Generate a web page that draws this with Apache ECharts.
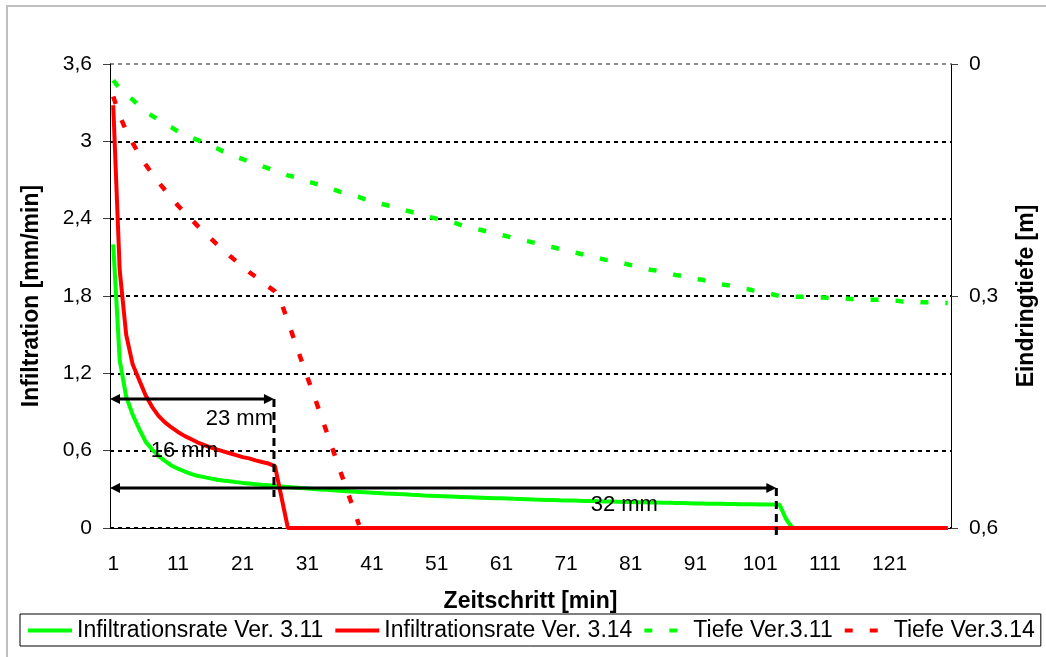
<!DOCTYPE html>
<html>
<head>
<meta charset="utf-8">
<script src="https://cdn.jsdelivr.net/npm/echarts@6.0.0/dist/echarts.min.js"></script>
<style>
  html, body { margin: 0; padding: 0; background: #fff; }
  #chart { width: 1046px; height: 657px; }
</style>
</head>
<body>
<div id="chart"></div>
<script>
// Zeitschritt 1..130
const steps = [];
for (let i = 1; i <= 130; i++) steps.push(String(i));

const leftTicks = ['0', '0,6', '1,2', '1,8', '2,4', '3', '3,6'];
const rightTicks = ['0', '0,3', '0,6'];

// Infiltrationsrate [mm/min]
const rate311 = [
  2.2, 1.3, 1.02, 0.88, 0.77, 0.67, 0.61, 0.56, 0.52, 0.485,
  0.46, 0.44, 0.42, 0.405, 0.395, 0.385, 0.375, 0.368, 0.362, 0.356,
  0.35, 0.345, 0.34, 0.335, 0.331, 0.327, 0.323, 0.319, 0.315, 0.31,
  0.307, 0.303, 0.299, 0.296, 0.292, 0.289, 0.286, 0.283, 0.28, 0.277,
  0.274, 0.271, 0.268, 0.266, 0.263, 0.261, 0.258, 0.256, 0.253, 0.251,
  0.249, 0.247, 0.245, 0.243, 0.241, 0.239, 0.237, 0.235, 0.233, 0.231,
  0.23, 0.228, 0.226, 0.225, 0.223, 0.221, 0.22, 0.218, 0.217, 0.215,
  0.214, 0.213, 0.211, 0.21, 0.209, 0.207, 0.206, 0.205, 0.204, 0.202,
  0.201, 0.2, 0.199, 0.198, 0.197, 0.196, 0.195, 0.194, 0.193, 0.192,
  0.191, 0.19, 0.189, 0.189, 0.188, 0.187, 0.186, 0.185, 0.185, 0.184,
  0.183, 0.183, 0.182, 0.181, 0.07, 0, 0, 0, 0, 0,
  0, 0, 0, 0, 0, 0, 0, 0, 0, 0,
  0, 0, 0, 0, 0, 0, 0, 0, 0, 0
];
const rate314 = [
  3.28, 2.0, 1.5, 1.27, 1.15, 1.03, 0.94, 0.87, 0.82, 0.78,
  0.745, 0.715, 0.69, 0.665, 0.645, 0.625, 0.61, 0.595, 0.58, 0.565,
  0.55, 0.54, 0.525, 0.512, 0.5, 0.48, 0.24, 0, 0, 0,
  0, 0, 0, 0, 0, 0, 0, 0, 0, 0,
  0, 0, 0, 0, 0, 0, 0, 0, 0, 0,
  0, 0, 0, 0, 0, 0, 0, 0, 0, 0,
  0, 0, 0, 0, 0, 0, 0, 0, 0, 0,
  0, 0, 0, 0, 0, 0, 0, 0, 0, 0,
  0, 0, 0, 0, 0, 0, 0, 0, 0, 0,
  0, 0, 0, 0, 0, 0, 0, 0, 0, 0,
  0, 0, 0, 0, 0, 0, 0, 0, 0, 0,
  0, 0, 0, 0, 0, 0, 0, 0, 0, 0,
  0, 0, 0, 0, 0, 0, 0, 0, 0, 0
];

// Eindringtiefe [m]
const depth311 = [
  0.021, 0.032, 0.04, 0.046, 0.054, 0.061, 0.067, 0.072, 0.078, 0.082,
  0.087, 0.091, 0.095, 0.098, 0.102, 0.106, 0.109, 0.113, 0.116, 0.12,
  0.123, 0.126, 0.129, 0.132, 0.135, 0.138, 0.141, 0.144, 0.146, 0.149,
  0.152, 0.154, 0.157, 0.16, 0.162, 0.165, 0.167, 0.17, 0.172, 0.175,
  0.177, 0.18, 0.182, 0.184, 0.187, 0.189, 0.191, 0.194, 0.196, 0.198,
  0.2, 0.202, 0.204, 0.206, 0.209, 0.211, 0.213, 0.215, 0.217, 0.219,
  0.221, 0.223, 0.225, 0.227, 0.229, 0.231, 0.233, 0.235, 0.237, 0.239,
  0.241, 0.243, 0.245, 0.247, 0.249, 0.251, 0.253, 0.254, 0.256, 0.258,
  0.26, 0.262, 0.264, 0.266, 0.267, 0.269, 0.271, 0.273, 0.274, 0.276,
  0.278, 0.279, 0.281, 0.283, 0.285, 0.286, 0.288, 0.29, 0.291, 0.293,
  0.295, 0.296, 0.298, 0.3, 0.3, 0.301, 0.301, 0.301, 0.302, 0.302,
  0.302, 0.303, 0.303, 0.303, 0.304, 0.304, 0.304, 0.305, 0.305, 0.305,
  0.306, 0.306, 0.307, 0.307, 0.307, 0.308, 0.308, 0.308, 0.309, 0.309
];
const depth314 = [
  0.042, 0.067, 0.086, 0.102, 0.117, 0.13, 0.142, 0.153, 0.163, 0.173,
  0.183, 0.192, 0.2, 0.209, 0.217, 0.225, 0.233, 0.24, 0.248, 0.255,
  0.262, 0.269, 0.275, 0.282, 0.288, 0.294, 0.309, 0.333, 0.357, 0.381,
  0.405, 0.428, 0.452, 0.476, 0.5, 0.524, 0.548, 0.572, 0.596
];

const seriesNames = ['Infiltrationsrate Ver. 3.11', 'Infiltrationsrate Ver. 3.14', 'Tiefe Ver.3.11', 'Tiefe Ver.3.14'];

const FONT = '"Liberation Sans", Arial, sans-serif';
const GREEN = '#00ff00', RED = '#ff0000';

let chart = echarts.init(document.getElementById('chart'));

let option = {
  animation: false,
  backgroundColor: '#fff',
  textStyle: { fontFamily: FONT },
  grid: { left: 110, right: 88, top: 64, bottom: 129 },
  legend: {
    data: seriesNames,
    left: 20,
    top: 614,
    padding: [5, 6, 4, 6],
    itemWidth: 44,
    itemHeight: 14,
    itemGap: 10,
    borderColor: '#000',
    borderWidth: 1,
    itemStyle: { opacity: 0 },
    lineStyle: { width: 4 },
    textStyle: { fontSize: 23, color: '#000', fontFamily: FONT }
  },
  xAxis: {
    type: 'category',
    data: steps,
    boundaryGap: true,
    name: 'Zeitschritt [min]',
    nameLocation: 'middle',
    nameGap: 62,
    nameTextStyle: { fontSize: 23, fontWeight: 'bold', color: '#000', fontFamily: FONT },
    axisLine: { lineStyle: { color: '#000', width: 1 } },
    axisTick: { interval: 4, length: 7, lineStyle: { color: '#404040' } },
    axisLabel: { interval: 9, margin: 26, fontSize: 21, color: '#000', fontFamily: FONT },
    splitLine: { show: false }
  },
  yAxis: [
    {
      type: 'value',
      min: 0,
      max: 3.6,
      interval: 0.6,
      name: 'Infiltration [mm/min]',
      nameLocation: 'middle',
      nameRotate: 90,
      nameGap: 67,
      nameTextStyle: { fontSize: 23, fontWeight: 'bold', color: '#000', fontFamily: FONT },
      axisLine: { show: true, lineStyle: { color: '#000', width: 1 } },
      axisTick: { show: true, length: 7, lineStyle: { color: '#404040' } },
      axisLabel: {
        margin: 18, fontSize: 21, color: '#000', fontFamily: FONT,
        formatter: (v, i) => leftTicks[i]
      },
      splitLine: {
        show: true,
        lineStyle: {
          color: ['#000', '#000', '#000', '#000', '#000', '#000', '#8c8c8c'],
          width: 2,
          type: [4, 4]
        }
      }
    },
    {
      type: 'value',
      min: 0,
      max: 0.6,
      interval: 0.3,
      inverse: true,
      name: 'Eindringtiefe [m]',
      nameLocation: 'middle',
      nameRotate: 90,
      nameGap: 64,
      nameTextStyle: { fontSize: 23, fontWeight: 'bold', color: '#000', fontFamily: FONT },
      axisLine: { show: true, lineStyle: { color: '#000', width: 1 } },
      axisTick: { show: true, length: 7, lineStyle: { color: '#404040' } },
      axisLabel: {
        margin: 18, fontSize: 21, color: '#000', fontFamily: FONT,
        formatter: (v, i) => rightTicks[i]
      },
      splitLine: { show: false }
    }
  ],
  series: [
    {
      name: seriesNames[0], type: 'line', data: rate311, yAxisIndex: 0,
      symbol: 'none', color: GREEN,
      lineStyle: { color: GREEN, width: 4 }
    },
    {
      name: seriesNames[1], type: 'line', data: rate314, yAxisIndex: 0,
      symbol: 'none', color: RED,
      lineStyle: { color: RED, width: 4 }
    },
    {
      name: seriesNames[2], type: 'line', data: depth311, yAxisIndex: 1,
      symbol: 'none', color: GREEN,
      lineStyle: { color: GREEN, width: 4.5, type: [8, 17] }
    },
    {
      name: seriesNames[3], type: 'line', data: depth314, yAxisIndex: 1,
      symbol: 'none', color: RED,
      lineStyle: { color: RED, width: 4.5, type: [8, 17] }
    }
  ]
};
chart.setOption(option);

// annotations, placed through the axes
function px(cat, val) {
  return chart.convertToPixel({ xAxisIndex: 0, yAxisIndex: 0 }, [cat, val]);
}
const half = (px('2', 0)[0] - px('1', 0)[0]) / 2;
const x0 = px('1', 0)[0] - half;

function arrow(xa, xb, y) {
  const s = { fill: '#000' };
  return [
    { type: 'line', shape: { x1: xa + 6, y1: y, x2: xb - 6, y2: y }, style: { stroke: '#000', lineWidth: 3 }, z: 100 },
    { type: 'polygon', shape: { points: [[xa, y], [xa + 10, y - 5], [xa + 10, y + 5]] }, style: s, z: 100 },
    { type: 'polygon', shape: { points: [[xb, y], [xb - 10, y - 5], [xb - 10, y + 5]] }, style: s, z: 100 }
  ];
}
function vdash(x, y1, y2) {
  return { type: 'line', shape: { x1: x, y1: y1, x2: x, y2: y2 }, style: { stroke: '#000', lineWidth: 3, lineDash: [8, 5] }, z: 100 };
}
function label(text, x, y) {
  return {
    type: 'text', x: x, y: y, z: 101,
    style: { text: text, font: '22px ' + FONT, fill: '#000', align: 'center', verticalAlign: 'middle' }
  };
}

const a1 = px('26', 1.0);
const a1end = a1[0] - 1;
const p103 = px('103', 0.31), p104 = px('104', 0.31);
const a2end = (p103[0] + p104[0]) / 2;
const a2y = p103[1];
const axisY = px('1', 0)[1];

const t23 = [(px('20', 0)[0] + px('21', 0)[0]) / 2, px('20', 0.85)[1]];
const t16 = [px('12', 0)[0], px('12', 0.6)[1]];
const t32 = [px('80', 0)[0], px('80', 0.178)[1]];

let graphics = [
  { type: 'rect', shape: { x: 7, y: 6, width: 1100, height: 700 }, style: { fill: 'none', stroke: '#bfbfbf', lineWidth: 2 }, z: -1, silent: true }
];
graphics = graphics.concat(arrow(x0, a1end, a1[1]));
graphics.push(vdash(a1end, a1[1], px('1', 0.24)[1]));
graphics = graphics.concat(arrow(x0, a2end, a2y));
graphics.push(vdash(a2end, a2y, axisY + 8));
graphics.push(label('23 mm', t23[0], t23[1]));
graphics.push(label('16 mm', t16[0], t16[1]));
graphics.push(label('32 mm', t32[0], t32[1]));

chart.setOption({ graphic: graphics });
</script>
</body>
</html>
